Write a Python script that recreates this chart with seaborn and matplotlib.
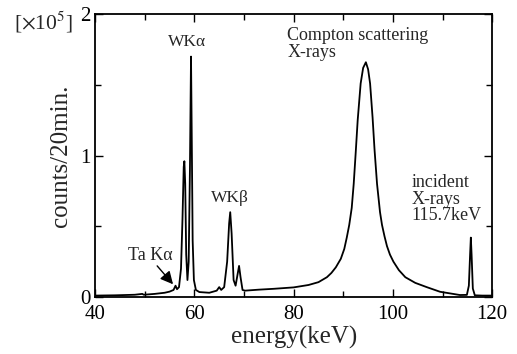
import numpy as np
import pandas as pd
import seaborn as sns
import matplotlib
matplotlib.use("Agg")
import matplotlib.pyplot as plt
from matplotlib.ticker import MultipleLocator

# spectrum: energy (keV) and counts (x1e5) per 20 min
energy = [40.0, 44.0, 48.0, 49.5, 49.8, 52.0, 54.0, 55.0, 55.8, 56.2, 56.5, 56.9,
          57.3, 57.6, 57.85, 57.98, 58.15, 58.35, 58.6, 58.85, 59.1, 59.32, 59.45,
          59.65, 59.9, 60.3, 61.0, 63.0, 64.5, 65.0, 65.4, 66.0, 66.6, 67.0, 67.22,
          67.5, 67.9, 68.3, 68.7, 69.0, 69.3, 69.7, 70.2, 73.0, 76.0, 80.0, 83.0,
          85.0, 86.7, 87.6, 88.5, 89.5, 90.2, 90.7, 91.2, 91.7, 92.1, 92.5, 92.9,
          93.5, 94.0, 94.55, 95.0, 95.4, 95.9, 96.3, 96.8, 97.4, 97.8, 98.3, 98.8,
          99.4, 100.1, 101.2, 102.5, 104.5, 106.8, 109.5, 113.5, 114.9, 115.3,
          115.55, 115.7, 115.85, 116.1, 116.5, 118.0, 120.0]
counts = [0.010, 0.012, 0.016, 0.022, 0.016, 0.022, 0.030, 0.038, 0.050, 0.080, 0.055, 0.070,
          0.20, 0.55, 0.92, 0.96, 0.80, 0.30, 0.12, 0.25, 0.90, 1.70, 1.20,
          0.40, 0.12, 0.05, 0.035, 0.030, 0.045, 0.070, 0.050, 0.070, 0.25, 0.52, 0.60,
          0.45, 0.12, 0.08, 0.16, 0.22, 0.14, 0.05, 0.045, 0.052, 0.058, 0.068, 0.085,
          0.105, 0.14, 0.17, 0.21, 0.27, 0.34, 0.42, 0.51, 0.63, 0.80, 1.02, 1.25,
          1.51, 1.62, 1.66, 1.61, 1.51, 1.27, 1.04, 0.80, 0.60, 0.51, 0.43, 0.36,
          0.30, 0.25, 0.19, 0.14, 0.10, 0.07, 0.037, 0.014, 0.015, 0.08,
          0.30, 0.42, 0.30, 0.06, 0.012, 0.010, 0.010]

df = pd.DataFrame({"energy": energy, "counts": counts})

sns.set_theme(style="ticks")
plt.rcParams["font.family"] = ["Liberation Serif", "DejaVu Serif"]
plt.rcParams["mathtext.fontset"] = "stix"

fig = plt.figure(figsize=(5.17, 3.54), dpi=100)
ax = fig.add_axes([0.184, 0.161, 0.768, 0.799])

sns.lineplot(data=df, x="energy", y="counts", estimator=None, sort=False,
             color="black", linewidth=1.3, ax=ax)

ax.set_xlim(40, 120)
ax.set_ylim(0, 2)
ax.xaxis.set_major_locator(MultipleLocator(20))
ax.xaxis.set_minor_locator(MultipleLocator(10))
ax.yaxis.set_major_locator(MultipleLocator(1))
ax.yaxis.set_minor_locator(MultipleLocator(0.5))
ax.tick_params(which="both", direction="in", top=True, right=True, colors="black",
               labelsize=15, width=1.0)
ax.tick_params(which="major", length=6)
ax.tick_params(which="minor", length=4)
ax.tick_params(axis="x", which="major", pad=6)
ax.tick_params(axis="y", which="major", pad=3)
for s in ax.spines.values():
    s.set_color("black")
    s.set_linewidth(1.3)

ax.set_xlabel("energy(keV)", fontsize=18, labelpad=1)
ax.set_ylabel("counts/20min.", fontsize=18, labelpad=6)

fig.text(0.027, 0.938, r"[$\times$10$^5$]", fontsize=15.5, va="center", ha="left")

ax.text(58.6, 1.80, "WKα", fontsize=12.5, ha="center", va="center")
ax.text(67.2, 0.70, "WKβ", fontsize=12.5, ha="center", va="center")
ax.text(78.7, 1.91, "Compton scattering\nX-rays", fontsize=13, ha="left", va="top",
        linespacing=1.0)
ax.text(103.7, 0.87, "incident\nX-rays\n115.7keV", fontsize=13, ha="left", va="top",
        linespacing=0.98)
ax.text(51.2, 0.29, "Ta Kα", fontsize=13, ha="center", va="center")
ax.annotate("", xy=(55.7, 0.09), xytext=(52.5, 0.22),
            arrowprops=dict(arrowstyle="-|>", color="black", lw=1.0,
                            mutation_scale=19, shrinkA=0, shrinkB=0))

fig.savefig("out.png", dpi=100)
